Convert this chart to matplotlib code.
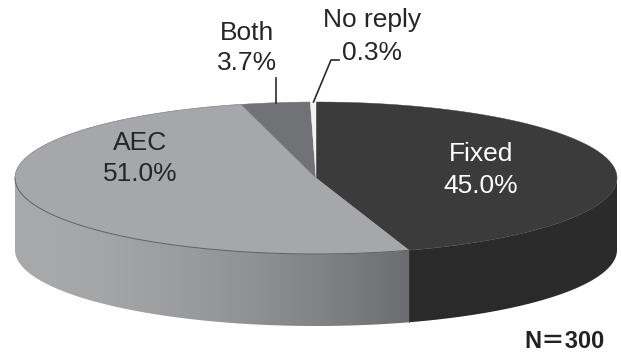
import numpy as np
import matplotlib
matplotlib.use("Agg")
import matplotlib.pyplot as plt
from matplotlib.colors import to_rgb
from matplotlib.patches import Polygon

# Survey shares, clockwise from twelve o'clock
categories = ["Fixed", "AEC", "Both", "No reply"]
shares = [45.0, 51.0, 3.7, 0.3]
top_colors = ["#3b3b3c", "#a6a7aa", "#717275", "#f2f2f2"]
side_left = ["#2a2a2a", "#a8a9ab"]
side_right = ["#2c2c2c", "#6b6c6f"]
total_label = "N＝300"

W, H = 621, 354
CX, CY, RX, RY, DEPTH = 316.0, 178.0, 301.0, 76.0, 72.0

plt.rcParams["font.family"] = ["Liberation Sans", "Noto Sans CJK SC", "DejaVu Sans"]
fig = plt.figure(figsize=(W / 100, H / 100), dpi=100)
ax = fig.add_axes([0, 0, 1, 1])
ax.set_xlim(0, W)
ax.set_ylim(H, 0)
ax.axis("off")


def rim(theta, drop=0.0):
    """Point on the ellipse; theta runs clockwise from the top, in radians."""
    return CX + RX * np.sin(theta), CY - RY * np.cos(theta) + drop


edges = np.radians(np.concatenate([[0], np.cumsum(shares)]) * 3.6)

# Side wall: only the front half of the disc shows, filled with a horizontal gradient
for i, (start, end) in enumerate(zip(edges[:-1], edges[1:])):
    lo, hi = max(start, np.pi / 2), min(end, 3 * np.pi / 2)
    if lo >= hi:
        continue
    steps = np.linspace(lo, hi, 200)
    x_top, y_top = rim(steps)
    x_bot, y_bot = rim(steps[::-1], DEPTH)
    outline = np.column_stack([np.r_[x_top, x_bot], np.r_[y_top, y_bot]])
    wall = Polygon(outline, closed=True, fc="none", ec="none", zorder=1)
    ax.add_patch(wall)
    u = np.linspace(0, 1, 256) ** 1.8
    c_l, c_r = np.array(to_rgb(side_left[i])), np.array(to_rgb(side_right[i]))
    shade = (c_l[None, :] + (c_r - c_l)[None, :] * u[:, None])[None, :, :]
    im = ax.imshow(shade, extent=(x_top.min(), x_top.max(), y_bot.max(), y_top.min()),
                   aspect="auto", interpolation="bilinear", zorder=1)
    im.set_clip_path(wall)
ax.set_xlim(0, W)
ax.set_ylim(H, 0)

# Top face
for start, end, color in zip(edges[:-1], edges[1:], top_colors):
    t = np.linspace(start, end, 200)
    x, y = rim(t)
    pts = np.column_stack([np.r_[CX, x], np.r_[CY, y]])
    ax.add_patch(Polygon(pts, closed=True, fc=color, ec=color, lw=0.3, zorder=2))

# Thin darker rim where the top meets the wall of the light segment
t = np.linspace(edges[1], 3 * np.pi / 2, 200)
ax.plot(*rim(t), color="#5f6064", lw=0.7, zorder=3)

# Faint outline round the back of the disc
t = np.linspace(3 * np.pi / 2, edges[2], 100)
ax.plot(*rim(t), color="#8b8c8f", lw=0.5, zorder=3)

# Corner line where the two wall segments join
x0, y0 = rim(edges[1])
ax.plot([x0, x0], [y0, y0 + DEPTH], color="#3a3a3a", lw=0.6, zorder=3)

# Leader lines for the outside labels
ax.plot([276, 276], [78, 103], color="#2b2b2b", lw=1.2, zorder=4)
ax.plot([339, 331, 313.5], [60, 60, 102], color="#2b2b2b", lw=1.2, zorder=4)

# Labels
FS = 19
label_pos = {"Fixed": (481, 154), "AEC": (140, 143), "Both": (247, 33), "No reply": (372, 20)}
value_pos = {"Fixed": (481, 186), "AEC": (140, 174), "Both": (247, 63), "No reply": (372, 53)}
text_colors = {"Fixed": "#ffffff", "AEC": "#262626", "Both": "#262626", "No reply": "#262626"}
for name, share in zip(categories, shares):
    ax.text(*label_pos[name], name, ha="center", va="center", fontsize=FS,
            color=text_colors[name], zorder=5)
    ax.text(*value_pos[name], f"{share:.1f}%", ha="center", va="center", fontsize=FS,
            color=text_colors[name], zorder=5)

ax.text(605, 341, total_label, ha="right", va="center", fontsize=17,
        fontweight="bold", color="#222222", zorder=5)

fig.savefig("out.png", dpi=100, facecolor="white")
